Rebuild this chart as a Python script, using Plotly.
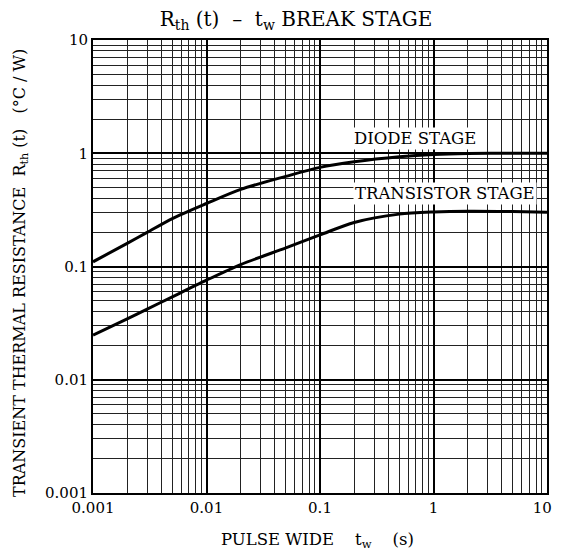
import plotly.graph_objects as go

# Data
tw = [0.001, 0.002, 0.003, 0.005, 0.01, 0.02, 0.05, 0.1, 0.2, 0.5, 1, 2, 5, 10]
diode = [0.110, 0.160, 0.200, 0.265, 0.36, 0.48, 0.625, 0.75, 0.84, 0.93, 0.975, 0.995, 1.0, 1.0]
transistor = [0.0248, 0.0345, 0.042, 0.054, 0.0757, 0.104, 0.146, 0.19, 0.245, 0.29, 0.303, 0.308, 0.306, 0.302]

major_vals = [0.001, 0.01, 0.1, 1, 10]
x_tick_text = ["0.001", "0.01", "0.1", "1", "10\u00a0\u00a0"]
y_tick_text = ["0.001", "0.01", "0.1", "1", "10"]
minor_vals = [m * d for d in [0.001, 0.01, 0.1, 1] for m in range(2, 10)]

FONT = "DejaVu Serif"
OFF = 8  # page body margin
W, H = 562 - 2 * OFF, 560 - 2 * OFF
PL, PR, PT, PB = 93, 547, 40, 493  # target plot box in page pixels

fig = go.Figure()
fig.add_trace(go.Scatter(x=tw, y=diode, mode="lines", line=dict(color="black", width=3, shape="spline", smoothing=0.8),
                         name="DIODE STAGE", showlegend=False))
fig.add_trace(go.Scatter(x=tw, y=transistor, mode="lines", line=dict(color="black", width=3, shape="spline", smoothing=0.8),
                         name="TRANSISTOR STAGE", showlegend=False))

axis_common = dict(
    type="log",
    tickmode="array",
    tickvals=major_vals,
    ticklabeloverflow="allow",
    automargin=False,
    showgrid=True,
    gridcolor="black",
    gridwidth=2,
    showline=True,
    linecolor="black",
    linewidth=2,
    mirror=True,
    ticks="",
    zeroline=False,
    tickfont=dict(family=FONT, size=15, color="black"),
    minor=dict(tickmode="array", tickvals=minor_vals, showgrid=True, gridcolor="#222222", gridwidth=1, ticks=""),
)

fig.update_xaxes(range=[-3, 1], ticktext=x_tick_text, **axis_common)
fig.update_yaxes(range=[-3, 1], ticktext=y_tick_text, **axis_common)


def px(x):
    return (x - PL) / (PR - PL)


def py(y):
    return (PB - y) / (PB - PT)


fig.update_layout(
    width=W, height=H, autosize=False,
    margin=dict(l=PL - OFF, r=W + OFF - PR, t=PT - OFF, b=H + OFF - PB, autoexpand=False),
    paper_bgcolor="white", plot_bgcolor="white",
    font=dict(family=FONT, color="black"),
    title=dict(text="R<sub>th</sub> (t)  –  t<sub>w</sub> BREAK STAGE", x=(296 - OFF) / W, xanchor="center",
               y=1 - (19 - OFF) / H, yanchor="middle", yref="container",
               font=dict(family=FONT, size=20, color="black")),
    annotations=[
        dict(text="DIODE STAGE", xref="paper", yref="paper", x=px(415), y=py(138),
             xanchor="center", yanchor="middle",
             showarrow=False, bgcolor="white", font=dict(family=FONT, size=16.5, color="black"),
             borderpad=1),
        dict(text="TRANSISTOR STAGE", xref="paper", yref="paper", x=px(445), y=py(194),
             xanchor="center", yanchor="middle",
             showarrow=False, bgcolor="white", font=dict(family=FONT, size=16.5, color="black"),
             borderpad=1),
        dict(text="TRANSIENT THERMAL RESISTANCE  R<sub>th</sub> (t)   (°C / W)", xref="paper", yref="paper",
             x=px(20), y=py(273), xanchor="center", yanchor="middle", textangle=-90, showarrow=False,
             font=dict(family=FONT, size=16, color="black")),
        dict(text="PULSE WIDE    t<sub>w</sub>    (s)", xref="paper", yref="paper",
             x=px(317), y=py(540), xanchor="center", yanchor="middle", showarrow=False,
             font=dict(family=FONT, size=16.5, color="black")),
    ],
)

fig.write_html("out.html")
